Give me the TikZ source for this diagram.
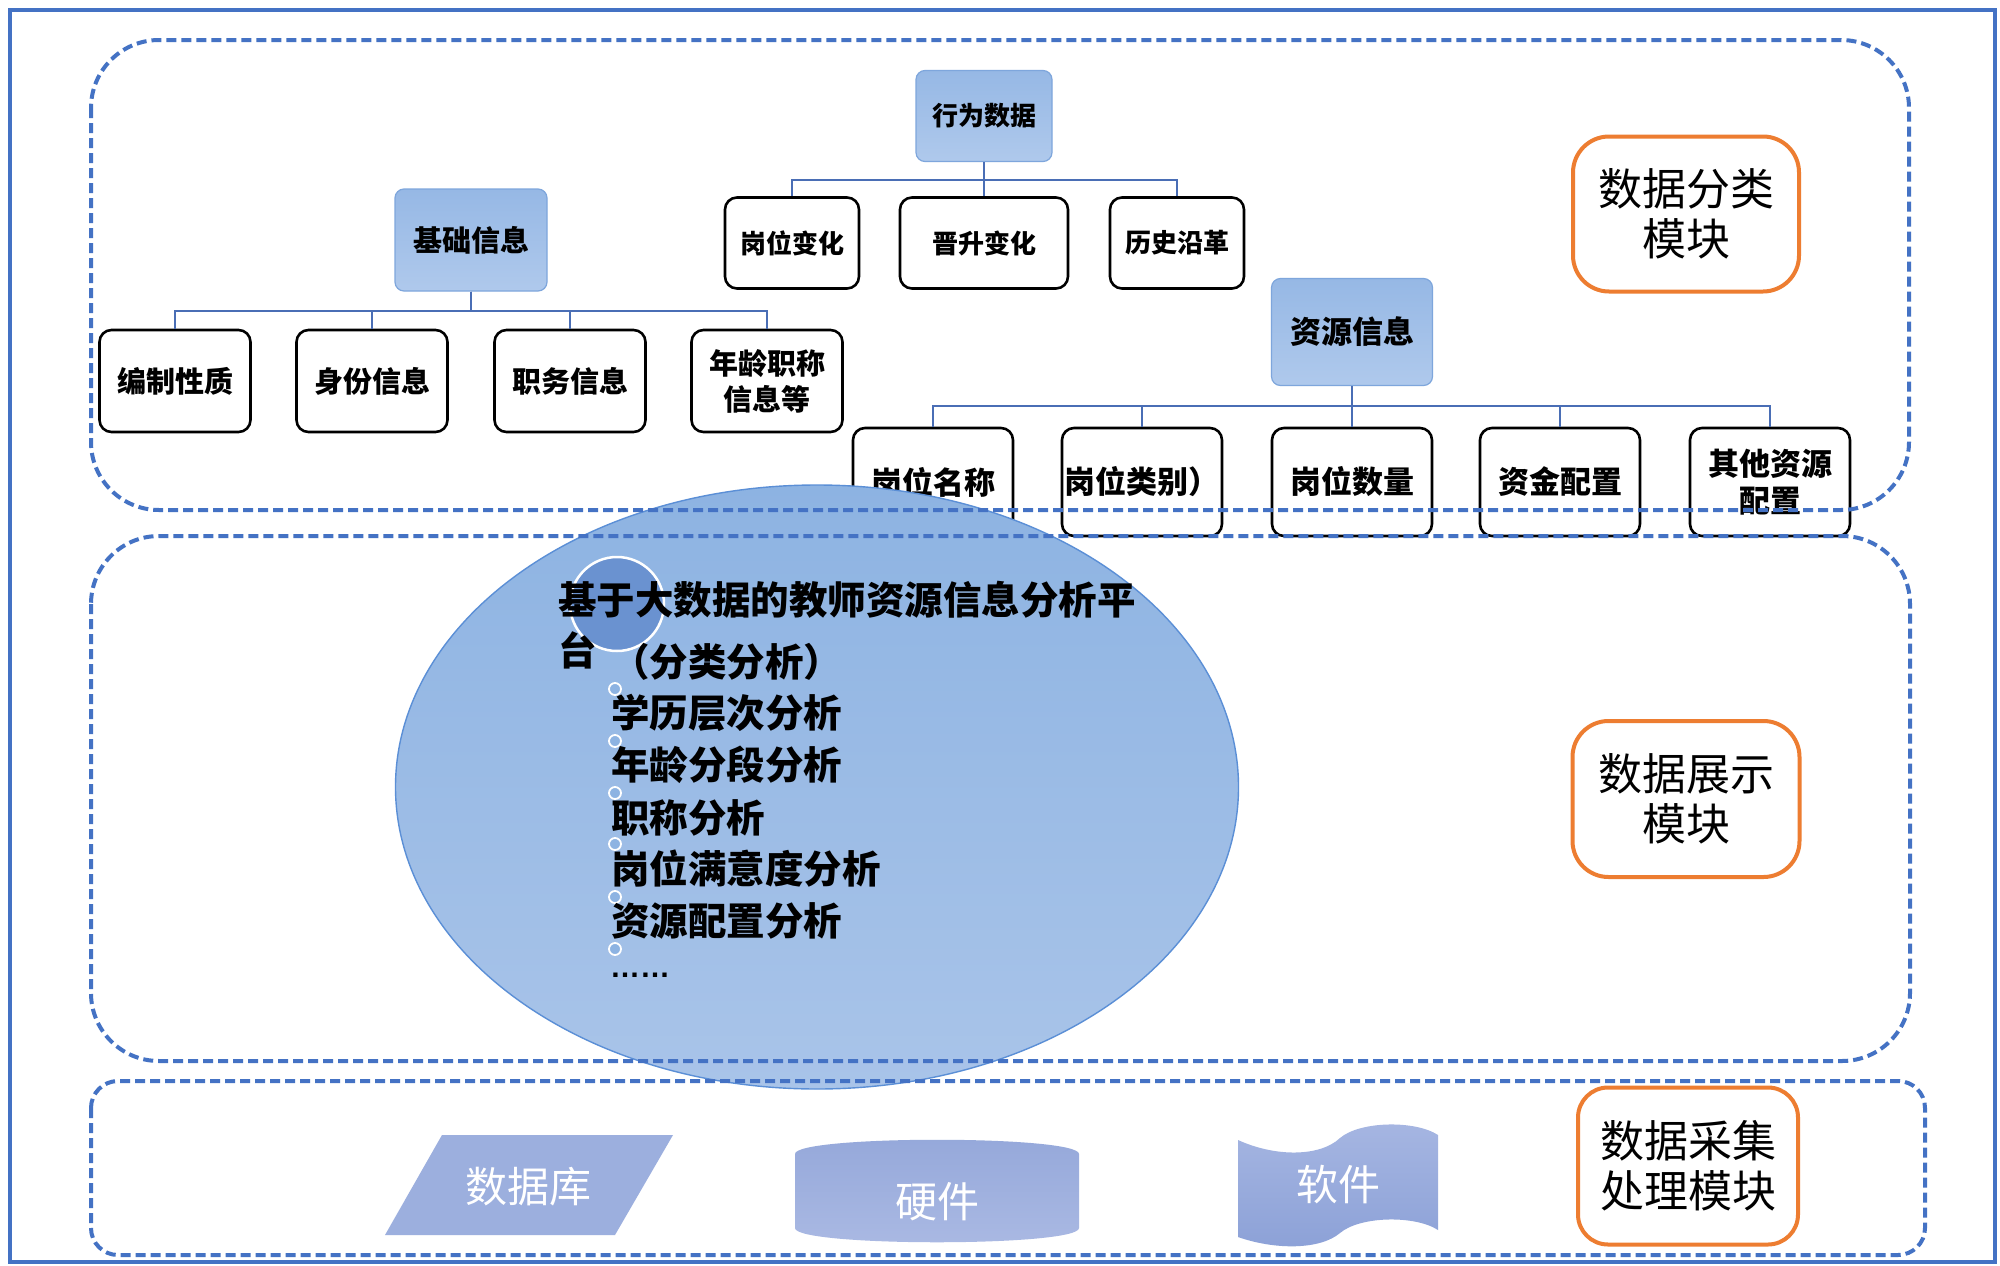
\documentclass[tikz,border=0pt]{standalone}
\usepackage{fontspec}
\setmainfont{Noto Sans CJK SC}
\newfontfamily\latf{Liberation Sans}
\usetikzlibrary{shapes.geometric}
\definecolor{frameblue}{HTML}{4472C4}
\definecolor{connblue}{HTML}{4A6EB5}
\definecolor{orng}{HTML}{ED7D31}
\definecolor{ptop}{HTML}{96B8E5}
\definecolor{pbot}{HTML}{AFC9EC}
\definecolor{pborder}{HTML}{7EA6DC}
\definecolor{etop}{HTML}{8DB3E2}
\definecolor{ebot}{HTML}{A9C4E9}
\definecolor{eborder}{HTML}{5B8FD6}
\definecolor{hcfill}{HTML}{6A92D0}
\definecolor{dbfill}{HTML}{9CAFDE}
\definecolor{hwtop}{HTML}{95A8DA}
\definecolor{hwbot}{HTML}{AAB9E3}
\definecolor{swtop}{HTML}{A6B6E2}
\definecolor{swbot}{HTML}{8CA1D7}
\begin{document}
\begin{tikzpicture}[x=1pt,y=-1pt,
  parentbox/.style={rounded corners=9pt, draw=pborder, line width=1.2pt, top color=ptop, bottom color=pbot, inner sep=0pt, align=center},
  childbox/.style={rounded corners=12pt, draw=black, line width=2.6pt, fill=white, inner sep=0pt, align=center},
  conn/.style={draw=connblue, line width=2.6pt},
  modbox/.style={rounded corners=36pt, draw=orng, line width=4pt, fill=white, align=center, inner sep=0pt, font=\fontsize{44pt}{50pt}\selectfont},
  dashbox/.style={draw=frameblue, line width=4pt, dash pattern=on 10pt off 5pt},
  fA/.style={font=\bfseries\fontsize{29pt}{36pt}\selectfont},
  fB/.style={font=\bfseries\fontsize{26pt}{32pt}\selectfont},
  fC/.style={font=\bfseries\fontsize{31pt}{37pt}\selectfont},
  etext/.style={anchor=west, inner sep=0pt, font=\bfseries\fontsize{38.5pt}{44pt}\selectfont},
  bullet/.style={circle, inner sep=0pt, minimum size=12pt, fill=etop, draw=white, line width=1.8pt},
  wtext/.style={text=white, inner sep=0pt, font=\fontsize{42pt}{48pt}\selectfont}
]
\useasboundingbox (0,0) rectangle (2000,1266);
\fill[white] (0,0) rectangle (2000,1266);

% ---------- basic info tree ----------
\node[parentbox, fA, minimum width=152pt, minimum height=102pt] (jc) at (471,240) {基础信息};
\node[childbox, fA, minimum width=151pt, minimum height=102pt] (b1) at (175,381) {编制性质};
\node[childbox, fA, minimum width=151pt, minimum height=102pt] (b2) at (372,381) {身份信息};
\node[childbox, fA, minimum width=151pt, minimum height=102pt] (b3) at (570,381) {职务信息};
\node[childbox, fA, minimum width=151pt, minimum height=102pt] (b4) at (767,381) {年龄职称\\信息等};
\coordinate (jbus) at (0,311);
\foreach \c in {b1,b2,b3,b4}{\draw[conn] (jc.south) |- (\c.north |- jbus) -- (\c.north);}

% ---------- behaviour tree ----------
\node[parentbox, fB, minimum width=136pt, minimum height=91pt] (xw) at (984,116) {行为数据};
\node[childbox, fB, minimum width=134pt, minimum height=91pt] (x1) at (792,243) {岗位变化};
\node[childbox, fB, minimum width=168pt, minimum height=91pt] (x2) at (984,243) {晋升变化};
\node[childbox, fB, minimum width=134pt, minimum height=91pt] (x3) at (1177,243) {历史沿革};
\coordinate (xbus) at (0,180);
\foreach \c in {x1,x2,x3}{\draw[conn] (xw.south) |- (\c.north |- xbus) -- (\c.north);}

% ---------- resource tree ----------
\node[parentbox, fC, minimum width=161pt, minimum height=107pt] (zy) at (1352,332) {资源信息};
\node[childbox, fC, minimum width=160pt, minimum height=108pt] (z1) at (933,482) {岗位名称};
\node[childbox, fC, minimum width=160pt, minimum height=108pt] (z2) at (1142,482) {岗位类别）};
\node[childbox, fC, minimum width=160pt, minimum height=108pt] (z3) at (1352,482) {岗位数量};
\node[childbox, fC, minimum width=160pt, minimum height=108pt] (z4) at (1560,482) {资金配置};
\node[childbox, fC, minimum width=160pt, minimum height=108pt] (z5) at (1770,482) {其他资源\\配置};
\coordinate (zbus) at (0,406);
\foreach \c in {z1,z2,z3,z4,z5}{\draw[conn] (zy.south) |- (\c.north |- zbus) -- (\c.north);}

% ---------- platform ellipse ----------
\node[ellipse, draw=eborder, line width=1.4pt, top color=etop, bottom color=ebot, minimum width=843pt, minimum height=604pt, inner sep=0pt] (plat) at (817,787) {};

% ---------- dashed module frames ----------
\draw[dashbox, rounded corners=68pt] (91,40) rectangle (1909,510);
\draw[dashbox, rounded corners=68pt] (91,536) rectangle (1910,1061);
\draw[dashbox, rounded corners=27pt] (91,1081) rectangle (1925,1255);

% ---------- platform content ----------
\node[circle, inner sep=0pt, minimum size=94pt, fill=hcfill, draw=white, line width=2.5pt] (hc) at (617,604) {};
\node[etext] (t1) at (558,600) {基于大数据的教师资源信息分析平};
\node[etext] (t2) at (558,650) {台};
\node[etext] (t3) at (611,662) {（分类分析）};
\node[bullet] (bl1) at (615,689) {};
\node[bullet] (bl2) at (615,741) {};
\node[bullet] (bl3) at (615,793) {};
\node[bullet] (bl4) at (615,844) {};
\node[bullet] (bl5) at (615,897) {};
\node[bullet] (bl6) at (615,949) {};
\node[etext] (l1) at (611,713) {学历层次分析};
\node[etext] (l2) at (611,765) {年龄分段分析};
\node[etext] (l3) at (611,818) {职称分析};
\node[etext] (l4) at (611,869) {岗位满意度分析};
\node[etext] (l5) at (611,921) {资源配置分析};
\node[anchor=base west, inner sep=0pt, font=\latf\bfseries\fontsize{30pt}{34pt}\selectfont] (l6) at (610,977) {……};

% ---------- collection shapes ----------
\fill[dbfill] (442,1135) -- (673,1135) -- (615,1235) -- (385,1235) -- cycle;
\node[wtext] (db) at (528,1187) {数据库};
\shade[top color=hwtop, bottom color=hwbot] (795,1154) .. controls (795,1135) and (1079,1135) .. (1079,1154) -- (1079,1228) .. controls (1079,1247) and (795,1247) .. (795,1228) -- cycle;
\node[wtext] (hw) at (937,1202) {硬件};
\shade[top color=swtop, bottom color=swbot] (1238,1140) .. controls (1275,1157) and (1320,1157) .. (1340,1138) .. controls (1360,1121) and (1415,1120) .. (1438,1135) -- (1438,1230) .. controls (1415,1215) and (1360,1216) .. (1340,1233) .. controls (1320,1250) and (1275,1250) .. (1238,1237) -- cycle;
\node[wtext] (sw) at (1338,1185) {软件};

% ---------- module labels ----------
\node[modbox, minimum width=226pt, minimum height=155pt] (m1) at (1686,214) {数据分类\\模块};
\node[modbox, minimum width=227pt, minimum height=156pt] (m2) at (1686,799) {数据展示\\模块};
\node[modbox, rounded corners=30pt, minimum width=220pt, minimum height=157pt] (m3) at (1688,1166) {数据采集\\处理模块};

% ---------- outer frame ----------
\draw[frameblue, line width=3.5pt] (10,10) rectangle (1995,1262);
\end{tikzpicture}
\end{document}
